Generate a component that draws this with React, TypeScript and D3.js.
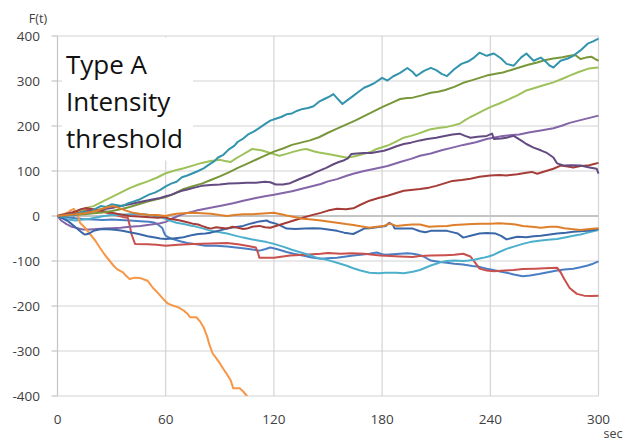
import { useEffect, useRef } from "react";
import * as d3 from "d3";

type Pt = [number, number];

const X_TICKS = [0, 60, 120, 180, 240, 300];
const Y_TICKS = [-400, -300, -200, -100, 0, 100, 200, 300, 400];
const TITLE_LINES = ["Type A", "Intensity", "threshold"];

// series as [sec, F(t)]
const teal: Pt[] = [[0,0],[3,-2],[6,3],[9,1],[12,6],[15,10],[18,8],[21,16],[24,22],[27,20],[30,26],[33,24],[36,22],[39,28],[42,32],[45,36],[48,42],[51,48],[54,52],[57,58],[60,66],[63,72],[66,76],[69,86],[72,90],[75,95],[78,100],[81,106],[84,114],[87,122],[89,130],[92,136],[95,148],[98,156],[100,165],[103,172],[106,182],[109,188],[112,196],[115,204],[118,212],[121,216],[124,220],[127,226],[130,228],[133,234],[136,238],[139,240],[142,244],[145,254],[148,260],[151,266],[153,271],[155,262],[158,249],[161,258],[164,267],[167,276],[170,285],[173,290],[176,296],[180,307],[183,301],[186,310],[190,318],[194,329],[197,320],[199,311],[203,322],[207,329],[210,324],[213,316],[216,311],[220,326],[224,338],[228,344],[231,352],[234,363],[238,356],[242,361],[246,350],[249,338],[253,334],[257,352],[260,361],[264,345],[268,352],[271,342],[273,334],[275,330],[279,345],[283,350],[286,356],[290,368],[294,383],[297,388],[300,394]];
const olive: Pt[] = [[0,0],[5,1],[10,3],[15,4],[20,6],[25,8],[30,11],[35,15],[40,20],[45,26],[50,32],[55,37],[60,42],[65,50],[70,60],[75,66],[80,72],[85,80],[90,88],[95,97],[100,107],[105,116],[110,125],[115,134],[120,143],[125,150],[130,158],[135,163],[140,168],[145,175],[150,185],[155,194],[160,203],[165,212],[170,222],[175,232],[180,242],[185,251],[190,260],[194,262],[197,263],[202,268],[207,274],[211,276],[215,280],[220,287],[225,296],[230,302],[234,307],[238,312],[243,316],[247,319],[252,325],[256,330],[261,336],[266,341],[270,346],[275,350],[280,353],[284,356],[287,358],[290,349],[293,352],[296,354],[298,349],[300,345]];
const lightGreen: Pt[] = [[0,0],[3,2],[6,5],[10,8],[13,12],[16,18],[20,22],[23,28],[26,34],[30,42],[35,52],[40,62],[45,70],[50,77],[55,85],[60,95],[65,101],[70,106],[75,112],[80,118],[85,122],[90,125],[93,122],[96,120],[99,128],[102,135],[105,142],[108,149],[113,146],[118,140],[123,134],[127,138],[131,143],[135,147],[138,149],[142,144],[145,141],[150,138],[155,134],[160,130],[163,131],[166,134],[170,138],[174,143],[177,149],[181,154],[184,158],[188,166],[192,174],[196,178],[200,183],[204,189],[207,193],[212,196],[216,198],[220,202],[223,205],[226,213],[229,220],[232,226],[236,234],[240,242],[245,250],[249,257],[255,268],[260,279],[265,285],[270,291],[275,297],[280,305],[284,312],[289,320],[294,327],[297,329],[300,330]];
const darkPurple: Pt[] = [[0,0],[5,3],[10,5],[15,9],[20,12],[25,15],[30,18],[35,22],[40,26],[47,32],[54,38],[57,40],[60,44],[63,47],[66,52],[69,56],[72,59],[76,63],[80,67],[85,69],[90,70],[95,72],[100,73],[105,74],[110,74],[115,76],[118,75],[121,70],[125,70],[129,73],[133,80],[136,85],[140,91],[143,97],[146,102],[149,107],[153,115],[156,120],[159,124],[161,128],[163,138],[166,139],[170,140],[174,140],[177,142],[181,145],[184,149],[188,155],[192,160],[196,163],[201,168],[205,171],[210,174],[214,177],[219,181],[223,183],[226,178],[229,174],[233,176],[238,178],[241,183],[242,171],[246,172],[249,174],[253,178],[257,168],[260,160],[264,152],[268,146],[271,141],[275,130],[277,117],[281,112],[285,113],[290,112],[295,108],[299,105],[300,94]];
const purple: Pt[] = [[0,0],[2,-10],[5,-18],[8,-24],[11,-27],[14,-30],[18,-30],[22,-29],[26,-28],[30,-27],[35,-26],[40,-24],[46,-22],[52,-19],[57,-16],[60,-13],[64,-5],[68,2],[72,7],[77,12],[82,16],[87,20],[92,24],[98,29],[103,34],[110,40],[115,44],[120,47],[125,51],[130,55],[135,60],[140,65],[146,71],[150,77],[155,82],[160,89],[164,94],[170,100],[176,105],[183,111],[190,120],[196,127],[201,134],[207,139],[213,146],[219,152],[225,158],[232,164],[238,171],[243,175],[247,178],[252,180],[256,181],[262,186],[268,190],[275,195],[280,201],[284,207],[290,213],[295,218],[300,223]];
const darkRed: Pt[] = [[0,0],[4,4],[7,7],[10,10],[13,15],[16,18],[18,16],[20,15],[24,12],[28,9],[33,5],[36,3],[40,0],[45,-1],[51,-3],[56,-4],[59,-2],[62,-6],[65,-8],[68,-10],[72,-14],[75,-17],[78,-19],[80,-22],[83,-26],[85,-28],[88,-25],[90,-26],[94,-28],[97,-24],[100,-26],[103,-29],[105,-28],[108,-24],[112,-22],[115,-25],[118,-26],[122,-21],[127,-15],[131,-10],[136,-4],[141,2],[146,7],[150,12],[155,16],[160,15],[164,17],[168,25],[173,34],[178,40],[183,45],[187,50],[192,56],[196,58],[201,60],[206,63],[210,67],[215,73],[219,78],[224,80],[229,83],[234,87],[240,90],[245,91],[249,90],[255,93],[260,96],[263,98],[266,94],[270,99],[275,105],[279,112],[283,110],[286,108],[290,111],[294,112],[297,115],[300,118]];
const red: Pt[] = [[0,0],[5,4],[10,8],[14,12],[17,14],[21,12],[25,10],[29,5],[32,2],[36,-2],[39,-4],[40,-20],[41,-40],[43,-62],[50,-63],[55,-64],[60,-66],[67,-64],[75,-62],[85,-61],[94,-60],[100,-63],[105,-66],[110,-70],[111,-80],[112,-93],[116,-93],[120,-93],[125,-90],[129,-88],[137,-86],[146,-84],[150,-82],[157,-84],[163,-83],[170,-84],[179,-88],[185,-89],[190,-90],[197,-91],[201,-89],[207,-88],[215,-87],[220,-86],[225,-84],[229,-90],[232,-106],[234,-117],[238,-121],[242,-123],[248,-121],[253,-120],[258,-118],[265,-117],[270,-116],[277,-115],[279,-125],[281,-140],[284,-160],[288,-173],[292,-177],[296,-178],[300,-177]];
const orange: Pt[] = [[0,0],[2,3],[4,5],[6,8],[7,12],[9,16],[10,10],[11,4],[12.5,-15],[15,-25],[18,-40],[21,-55],[23.6,-71],[26,-85],[29,-100],[31,-110],[33,-118],[36.5,-126],[38,-133],[40,-140],[43,-137],[46,-138],[48,-141],[50,-144],[53,-160],[55,-168],[57,-177],[59,-186],[61,-194],[64,-199],[67,-203],[70,-210],[72,-217],[73.5,-225],[77,-225],[79,-234],[81,-247],[83,-268],[84,-283],[86,-305],[88,-316],[90,-327],[92,-340],[94,-352],[96,-365],[97.5,-383],[101,-383],[103,-390],[105,-400],[107,-412]];
const darkOrange: Pt[] = [[0,0],[5,2],[10,4],[15,6],[20,10],[24,15],[28,20],[31,22],[34,18],[38,12],[42,7],[45,5],[50,3],[55,2],[60,0],[63,3],[66,5],[70,6],[75,7],[80,6],[85,5],[90,2],[94,0],[98,2],[103,4],[108,4],[112,5],[116,6],[120,7],[124,4],[127,1],[132,-3],[136,-6],[141,-8],[146,-10],[150,-12],[155,-15],[160,-18],[164,-20],[168,-23],[173,-26],[177,-24],[181,-22],[184,-17],[188,-22],[193,-20],[197,-19],[201,-19],[206,-24],[211,-23],[216,-22],[220,-20],[225,-19],[230,-18],[235,-17],[240,-17],[245,-16],[249,-17],[254,-19],[258,-22],[263,-24],[268,-26],[273,-24],[277,-24],[281,-27],[285,-29],[290,-31],[295,-29],[300,-27]];
const darkBlue: Pt[] = [[0,0],[3,-6],[6,-12],[10,-25],[13.6,-37],[15,-41],[17,-40],[20,-33],[23,-30],[26,-29],[30,-30],[33,-31],[36,-33],[40,-36],[45,-40],[50,-45],[54,-48],[57,-50],[60,-51],[64,-50],[69,-48],[72,-45],[75,-42],[78,-40],[82,-39],[85,-37],[89,-33],[94,-28],[98,-25],[103,-22],[106,-18],[109,-15],[112,-12],[116,-10],[118,-14],[121,-17],[124,-22],[127,-28],[132,-29],[137,-28],[142,-27],[146,-28],[150,-30],[155,-33],[159,-37],[162,-39],[164,-40],[167,-34],[170,-28],[173,-27],[177,-25],[182,-22],[184,-15],[186,-20],[187,-28],[192,-28],[197,-28],[201,-34],[204,-36],[207,-33],[212,-33],[216,-33],[220,-37],[222,-39],[225,-48],[229,-44],[234,-39],[238,-38],[243,-39],[246,-44],[249,-52],[252,-49],[255,-46],[260,-47],[264,-45],[268,-44],[273,-41],[277,-39],[282,-37],[286,-35],[290,-34],[294,-33],[297,-31],[300,-29]];
const blue: Pt[] = [[0,0],[5,-3],[10,-5],[15,-7],[20,-8],[25,-9],[30,-8],[35,-9],[40,-10],[44,-11],[48,-12],[51,-13],[54,-15],[56,-20],[58,-26],[59,-36],[60,-44],[62,-48],[64,-51],[68,-56],[72,-60],[77,-63],[82,-66],[88,-66],[94,-68],[99,-70],[105,-73],[109,-75],[112,-77],[115,-74],[118,-70],[122,-74],[127,-80],[131,-84],[136,-88],[141,-92],[146,-95],[150,-94],[155,-93],[160,-90],[164,-88],[168,-86],[173,-84],[177,-81],[180,-85],[182,-86],[186,-85],[190,-84],[194,-83],[197,-84],[200,-86],[203,-90],[207,-99],[212,-102],[216,-104],[220,-106],[225,-108],[230,-111],[234,-113],[238,-117],[243,-121],[246,-124],[249,-126],[253,-130],[258,-134],[262,-132],[267,-129],[272,-125],[277,-121],[281,-119],[286,-117],[290,-114],[294,-110],[297,-106],[300,-101]];
const cyan: Pt[] = [[0,0],[3,-4],[6,-8],[10,-10],[14,-8],[18,-6],[22,-3],[26,0],[30,2],[35,3],[40,4],[45,5],[50,3],[54,0],[57,-2],[60,-7],[63,-11],[66,-15],[70,-18],[75,-22],[80,-27],[85,-33],[90,-36],[94,-39],[98,-43],[103,-48],[108,-52],[112,-55],[116,-58],[120,-62],[125,-68],[130,-75],[135,-81],[140,-87],[144,-93],[150,-98],[155,-104],[160,-110],[164,-116],[168,-121],[173,-126],[178,-127],[182,-126],[188,-126],[192,-127],[197,-124],[201,-120],[204,-115],[207,-110],[210,-106],[213,-102],[216,-100],[220,-99],[225,-100],[228,-99],[231,-97],[236,-93],[239,-90],[242,-86],[245,-80],[249,-73],[253,-68],[258,-62],[262,-58],[267,-55],[272,-53],[277,-51],[282,-47],[286,-44],[290,-41],[293,-38],[297,-34],[300,-31]];

const SERIES: { name: string; data: Pt[] }[] = [
  { name: "blue", data: blue },
  { name: "red", data: red },
  { name: "lightGreen", data: lightGreen },
  { name: "purple", data: purple },
  { name: "cyan", data: cyan },
  { name: "orange", data: orange },
  { name: "darkBlue", data: darkBlue },
  { name: "darkRed", data: darkRed },
  { name: "olive", data: olive },
  { name: "darkPurple", data: darkPurple },
  { name: "teal", data: teal },
  { name: "darkOrange", data: darkOrange },
];

const COLORS: Record<string, string> = {
  blue: "#4a7ec4",
  red: "#c9504c",
  lightGreen: "#9dc25a",
  purple: "#8465a8",
  cyan: "#4cb0cc",
  orange: "#f79646",
  darkBlue: "#3a67a8",
  darkRed: "#a53c38",
  olive: "#78973a",
  darkPurple: "#634a80",
  teal: "#3394ad",
  darkOrange: "#de7f2c",
};

export default function App() {
  const svgRef = useRef<SVGSVGElement>(null);

  useEffect(() => {
    if (!svgRef.current) return;
    const svg = d3.select(svgRef.current);
    svg.selectAll("*").remove();

    const width = 638;
    const height = 441;
    const margin = { top: 36, right: 39.5, bottom: 45, left: 57.5 };

    const x = d3.scaleLinear().domain([0, 300]).range([margin.left, width - margin.right]);
    const y = d3.scaleLinear().domain([-400, 400]).range([height - margin.bottom, margin.top]);

    svg.attr("width", width).attr("height", height);
    svg.append("rect").attr("width", width).attr("height", height).attr("fill", "#fff");

    const font = "'Open Sans', 'DejaVu Sans', sans-serif";

    // grid
    const grid = svg.append("g").attr("stroke", "#d4d4d4").attr("stroke-width", 1.2);
    Y_TICKS.filter((v) => v !== 0).forEach((v) => {
      grid.append("line")
        .attr("x1", x(0)).attr("x2", x(300))
        .attr("y1", y(v)).attr("y2", y(v));
    });
    X_TICKS.filter((t) => t !== 0).forEach((t) => {
      grid.append("line")
        .attr("x1", x(t)).attr("x2", x(t))
        .attr("y1", y(400)).attr("y2", y(-400));
    });

    // axes
    svg.append("line")
      .attr("x1", x(0)).attr("x2", x(300))
      .attr("y1", y(0)).attr("y2", y(0))
      .attr("stroke", "#c4c4c4").attr("stroke-width", 2);
    svg.append("line")
      .attr("x1", x(0)).attr("x2", x(0))
      .attr("y1", y(400)).attr("y2", y(-400))
      .attr("stroke", "#c4c4c4").attr("stroke-width", 1.2);
    Y_TICKS.forEach((v) => {
      svg.append("line")
        .attr("x1", x(0) - 6).attr("x2", x(0))
        .attr("y1", y(v)).attr("y2", y(v))
        .attr("stroke", "#c4c4c4").attr("stroke-width", 1.2);
    });

    // text box covering the grid
    svg.append("rect")
      .attr("x", 62).attr("y", y(400) + 1.5)
      .attr("width", 131).attr("height", 123)
      .attr("fill", "#fff");

    // lines
    svg.append("clipPath").attr("id", "plot-clip")
      .append("rect")
      .attr("x", x(0)).attr("y", y(400) - 2)
      .attr("width", x(300) - x(0) + 2).attr("height", y(-400) - y(400) + 2);

    const line = d3.line<Pt>().x((d) => x(d[0])).y((d) => y(d[1]));
    const lines = svg.append("g").attr("clip-path", "url(#plot-clip)");
    SERIES.forEach((s) => {
      lines.append("path")
        .datum(s.data)
        .attr("d", line)
        .attr("fill", "none")
        .attr("stroke", COLORS[s.name])
        .attr("stroke-width", 2)
        .attr("stroke-linejoin", "round");
    });

    // tick labels
    Y_TICKS.forEach((v) => {
      svg.append("text")
        .attr("x", 40).attr("y", y(v) + 5)
        .attr("text-anchor", "end")
        .attr("font-family", font).attr("font-size", 13.5)
        .attr("fill", "#404040")
        .text(v);
    });
    X_TICKS.forEach((t) => {
      svg.append("text")
        .attr("x", x(t)).attr("y", 424)
        .attr("text-anchor", "middle")
        .attr("font-family", font).attr("font-size", 13.5)
        .attr("fill", "#404040")
        .text(t);
    });
    svg.append("text")
      .attr("x", 613).attr("y", 438)
      .attr("text-anchor", "middle")
      .attr("font-family", font).attr("font-size", 12.5)
      .attr("fill", "#404040")
      .text("sec");
    svg.append("text")
      .attr("x", 38).attr("y", 23)
      .attr("text-anchor", "middle")
      .attr("font-family", font).attr("font-size", 12.5)
      .attr("fill", "#404040")
      .text("F(t)");

    // title
    TITLE_LINES.forEach((s, i) => {
      svg.append("text")
        .attr("x", 66).attr("y", 74 + i * 37)
        .attr("font-family", font).attr("font-size", 26)
        .attr("fill", "#111")
        .text(s);
    });
  }, []);

  return (
    <svg
      ref={svgRef}
      style={{ position: "absolute", left: 0, top: 0, display: "block" }}
    />
  );
}
